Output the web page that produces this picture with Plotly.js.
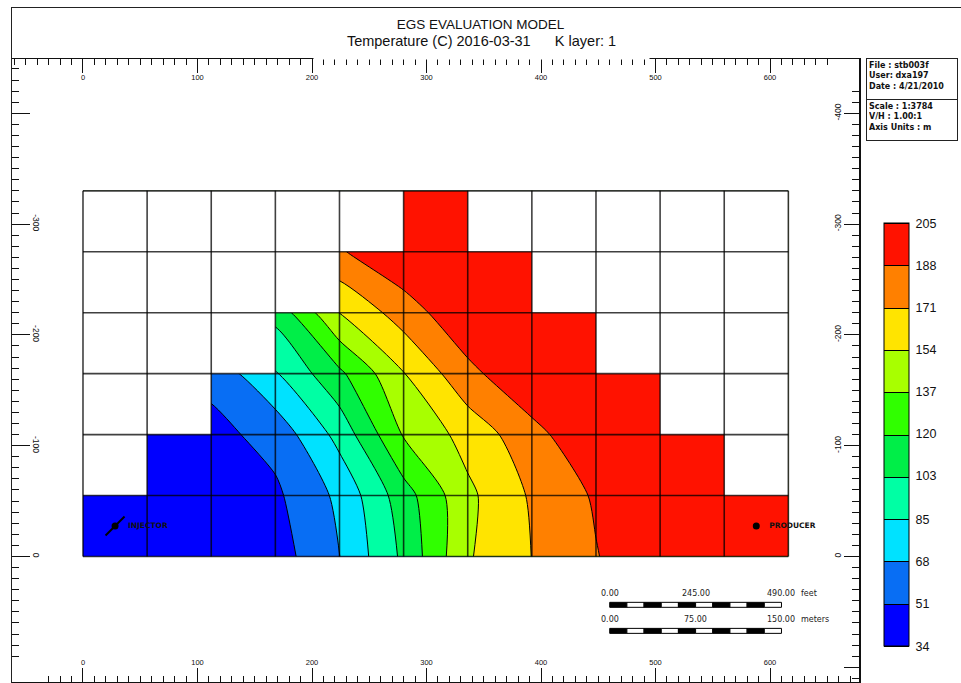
<!DOCTYPE html>
<html>
<head>
<meta charset="utf-8">
<script src="https://cdn.plot.ly/plotly-3.0.1.min.js"></script>
<style>
  html, body { margin: 0; padding: 0; background: #fff; }
  #wrap { position: relative; width: 961px; height: 683px; overflow: hidden; }
  #chart { position: absolute; left: 0; top: 0; width: 961px; height: 683px; }
  #frame { position: absolute; left: 11px; top: 7px; width: 1000px; height: 1000px;
           border: 1.5px solid #222; pointer-events: none; }
</style>
</head>
<body>
<div id="wrap"><div id="chart"></div><div id="frame"></div></div>
<script>
// Mesh of the K layer (metres): column and row edges
const colEdges = [0, 56, 112, 168, 224, 280, 336, 392, 448, 504, 560, 616];
const rowEdges = [0, -55, -110, -165, -220, -275, -330];

// Active cells, bottom row first (1 = active, 0 = inactive)
const activeCells = [
  [1, 1, 1, 1, 1, 1, 1, 1, 1, 1, 1],
  [0, 1, 1, 1, 1, 1, 1, 1, 1, 1, 0],
  [0, 0, 1, 1, 1, 1, 1, 1, 1, 0, 0],
  [0, 0, 0, 1, 1, 1, 1, 1, 0, 0, 0],
  [0, 0, 0, 0, 1, 1, 1, 0, 0, 0, 0],
  [0, 0, 0, 0, 0, 1, 0, 0, 0, 0, 0]
];

// Temperature (C) at the mesh corners, bottom row first
const temperature = [
  [36, 36, 37, 43, 68, 106, 152, 171, 187, 203, 203, 203],
  [36, 36, 38, 48, 72, 112, 150, 173, 190, 203, 203, 203],
  [40, 42, 46, 57, 91, 138, 160, 182, 203, 203, 203, 203],
  [45, 50, 56, 84, 116, 153, 183, 203, 203, 203, 203, 203],
  [90, 95, 100, 108, 154, 179, 202, 203, 203, 203, 203, 203],
  [150, 160, 170, 180, 186, 203, 203, 203, 203, 203, 203, 203],
  [203, 203, 203, 203, 203, 203, 203, 203, 203, 203, 203, 203]
];

// Contour levels shown on the legend bar and their fill colours
const levelLabels = [34, 51, 68, 85, 103, 120, 137, 154, 171, 188, 205];
const bandColors = ['#0000ff', '#086ef4', '#00e2ff', '#00ffa4', '#00ee48',
                    '#30ff00', '#a8ff00', '#ffe400', '#ff8000', '#ff1200'];

// Wells
const wellNames = ['INJECTOR', 'PRODUCER'];
const wellX = [28, 588];
const wellY = [-27.5, -27.5];

// Ruler ticks
const xTickVals = [0, 100, 200, 300, 400, 500, 600];
const yTickVals = [-400, -300, -200, -100, 0, 100];
const yLeftText = ['', '-300', '-200', '-100', '0', ''];
const yRightText = ['-400', '-300', '-200', '-100', '0', ''];

// Scale bars: metres and feet
const scaleMetres = [0, 75, 150];
const scaleMetreText = ['0.00', '75.00', '150.00'];
const scaleFeetText = ['0.00', '245.00', '490.00'];
const scaleSegments = 10;

// ---- drawing ----
const FONT = 'Liberation Sans, Arial, sans-serif';
const xRange = [-62, 677.7];
const yRange = [113.3, -449];

const nBands = bandColors.length;
const colorscale = [];
bandColors.forEach((c, k) => { colorscale.push([k / nBands, c]); colorscale.push([(k + 1) / nBands, c]); });
const zLo = levelLabels[0], zHi = levelLabels[levelLabels.length - 1];

const contour = {
  type: 'contour', x: colEdges, y: rowEdges, z: temperature,
  zmin: zLo, zmax: zHi, zauto: false, autocontour: false,
  contours: { start: zLo, end: zHi, size: (zHi - zLo) / nBands, coloring: 'fill', showlines: true },
  line: { color: '#000', width: 1, smoothing: 0.7 },
  colorscale: colorscale, hoverinfo: 'skip',
  colorbar: {
    x: 1.0295, xanchor: 'left', xpad: 0, ypad: 0,
    y: 0.397, yanchor: 'middle', len: 423, lenmode: 'pixels',
    thickness: 25, thicknessmode: 'pixels',
    outlinecolor: '#000', outlinewidth: 1,
    tickmode: 'array', tickvals: levelLabels, ticktext: levelLabels.map(String),
    ticks: 'outside', ticklen: 4, tickcolor: 'rgba(0,0,0,0)',
    tickfont: { family: FONT, size: 12.5, color: '#111' }
  }
};

// white fill over inactive cells
const mx = [], my = [];
activeCells.forEach((row, r) => row.forEach((a, c) => {
  if (!a) {
    mx.push(colEdges[c], colEdges[c + 1], colEdges[c + 1], colEdges[c], colEdges[c], null);
    my.push(rowEdges[r], rowEdges[r], rowEdges[r + 1], rowEdges[r + 1], rowEdges[r], null);
  }
}));
const mask = { type: 'scatter', mode: 'lines', x: mx, y: my, fill: 'toself',
  fillcolor: '#ffffff', line: { width: 0, color: 'rgba(0,0,0,0)' }, hoverinfo: 'skip', showlegend: false };

// mesh lines
const gx = [], gy = [];
colEdges.forEach(x => { gx.push(x, x, null); gy.push(rowEdges[0], rowEdges[rowEdges.length - 1], null); });
rowEdges.forEach(y => { gx.push(colEdges[0], colEdges[colEdges.length - 1], null); gy.push(y, y, null); });
const mesh = { type: 'scatter', mode: 'lines', x: gx, y: gy,
  line: { color: 'rgba(0,0,0,0.75)', width: 1.6 }, hoverinfo: 'skip', showlegend: false };

// wells: injector gets a slanted stem through its dot
const injStem = { type: 'scatter', mode: 'markers', x: [wellX[0]], y: [wellY[0]],
  marker: { symbol: 'line-ne', size: 19, line: { color: '#000', width: 2 } },
  hoverinfo: 'skip', showlegend: false };
const wells = { type: 'scatter', mode: 'markers+text', x: wellX, y: wellY,
  text: wellNames.map(n => '\u2003' + n), textposition: 'middle right',
  textfont: { family: 'DejaVu Sans, sans-serif', size: 7.5, color: '#111', weight: 'bold' },
  marker: { symbol: 'circle', size: 7, color: '#000' }, hoverinfo: 'skip', showlegend: false };

// second axis pair for the top and right rulers
const rulers = { type: 'scatter', mode: 'markers', x: [null], y: [null], xaxis: 'x2', yaxis: 'y2',
  hoverinfo: 'skip', showlegend: false };

// scale bars
const shapes = [];
const annotations = [];
const barX0 = 460, barLen = scaleMetres[scaleMetres.length - 1];
const bars = [{ y0: 41.4, y1: 45.9, ty: 33.5, text: scaleFeetText, unit: 'feet' },
              { y0: 64.9, y1: 69.4, ty: 56.5, text: scaleMetreText, unit: 'meters' }];
const smallFont = { family: 'DejaVu Sans, sans-serif', size: 8, color: '#222' };
bars.forEach(b => {
  for (let s = 0; s < scaleSegments; s++) {
    shapes.push({ type: 'rect', xref: 'x', yref: 'y',
      x0: barX0 + barLen * s / scaleSegments, x1: barX0 + barLen * (s + 1) / scaleSegments,
      y0: b.y0, y1: b.y1, fillcolor: s % 2 ? '#fff' : '#000', line: { color: '#000', width: 1 } });
  }
  scaleMetres.forEach((m, i) => {
    annotations.push({ xref: 'x', yref: 'y', x: barX0 + m, y: b.ty, text: b.text[i],
      showarrow: false, xanchor: 'center', yanchor: 'middle', font: smallFont });
  });
  annotations.push({ xref: 'x', yref: 'y', x: barX0 + barLen, y: b.ty, text: b.unit,
    showarrow: false, xanchor: 'left', yanchor: 'middle', xshift: 18, font: smallFont });
});

// subtitle sits on a white plate that interrupts the top ruler line
annotations.push({ xref: 'paper', yref: 'paper', x: 0.554, y: 0.9976, xanchor: 'center', yanchor: 'bottom',
  text: 'Temperature (C) 2016-03-31\u00a0\u00a0\u00a0\u00a0\u00a0\u00a0K layer: 1',
  showarrow: false, bgcolor: '#fff', width: 335, height: 26, valign: 'top', borderpad: 0,
  font: { family: FONT, size: 14.5, color: '#111' } });

// information boxes
const infoFont = { family: 'DejaVu Sans, sans-serif', size: 8, color: '#111', weight: 'bold' };
annotations.push({ xref: 'paper', yref: 'paper', x: 1.0083, y: 1.0016, xanchor: 'left', yanchor: 'top',
  text: 'File : stb003f<br>User: dxa197<br>Date : 4/21/2010', align: 'left', valign: 'top',
  showarrow: false, width: 86, height: 36, borderpad: 2, bordercolor: '#222', borderwidth: 1,
  bgcolor: '#fff', font: infoFont });
annotations.push({ xref: 'paper', yref: 'paper', x: 1.0083, y: 0.9358, xanchor: 'left', yanchor: 'top',
  text: 'Scale : 1:3784<br>V/H : 1.00:1<br>Axis Units : m', align: 'left', valign: 'top',
  showarrow: false, width: 86, height: 36, borderpad: 2, bordercolor: '#222', borderwidth: 1,
  bgcolor: '#fff', font: infoFont });

const tickFont = { family: FONT, size: 7.5, color: '#111' };
const xBase = {
  range: xRange, showgrid: false, zeroline: false, showline: true, linecolor: '#111', linewidth: 1.5,
  tickmode: 'array', tickvals: xTickVals, ticktext: xTickVals.map(String),
  ticks: 'inside', ticklen: 14, tickwidth: 1, tickcolor: '#111',
  minor: { tick0: 0, dtick: 10, ticks: 'inside', ticklen: 6, tickwidth: 1, tickcolor: '#111' },
  ticklabelposition: 'inside', tickfont: tickFont, fixedrange: true
};
const yBase = {
  range: yRange, showgrid: false, zeroline: false, showline: true, linecolor: '#111', linewidth: 1.5,
  tickmode: 'array', tickvals: yTickVals,
  ticks: 'inside', ticklen: 18, tickwidth: 1, tickcolor: '#111',
  minor: { tick0: 0, dtick: 10, ticks: 'inside', ticklen: 7, tickwidth: 1, tickcolor: '#111' },
  ticklabelposition: 'inside', tickfont: { family: FONT, size: 8.5, color: '#111' }, fixedrange: true
};

const layout = {
  width: 961, height: 683,
  margin: { l: 12, r: 102, t: 59, b: 1, pad: 0 },
  paper_bgcolor: '#fff', plot_bgcolor: '#fff',
  showlegend: false,
  title: { text: 'EGS EVALUATION MODEL', x: 0.5, xref: 'container', xanchor: 'center',
           y: 1 - 24 / 683, yref: 'container', yanchor: 'middle',
           font: { family: FONT, size: 13.5, color: '#111' } },
  xaxis: Object.assign({}, xBase, { side: 'bottom', anchor: 'y' }),
  xaxis2: Object.assign({}, xBase, { side: 'top', anchor: 'y', overlaying: 'x' }),
  yaxis: Object.assign({}, yBase, { side: 'left', anchor: 'x', ticktext: yLeftText, tickangle: 90 }),
  yaxis2: Object.assign({}, yBase, { side: 'right', anchor: 'x', overlaying: 'y', ticktext: yRightText,
                                     tickangle: -90, ticklen: 15 }),
  shapes: shapes,
  annotations: annotations
};

Plotly.newPlot('chart', [contour, mask, mesh, injStem, wells, rulers], layout,
  { staticPlot: true, displayModeBar: false });
</script>
</body>
</html>
